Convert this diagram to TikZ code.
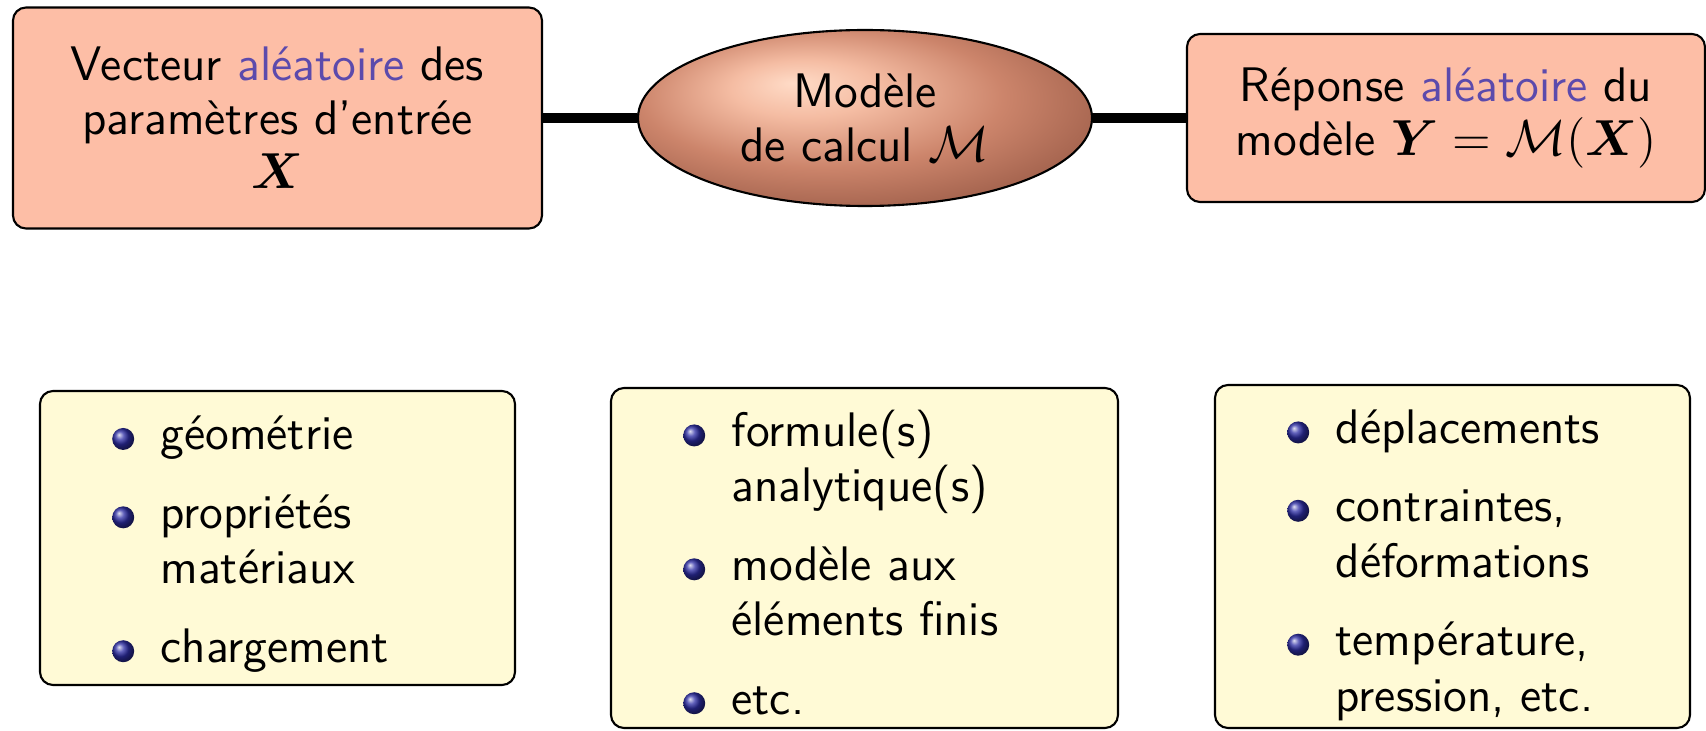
\documentclass[tikz,border=0pt]{standalone}
\usepackage{amsmath,bm}
\usetikzlibrary{shapes.geometric,positioning}
\definecolor{saumon}{RGB}{253,190,166}
\definecolor{creme}{RGB}{255,250,214}
\definecolor{structure}{RGB}{92,74,172}
\definecolor{puce}{RGB}{45,45,165}
\pgfdeclareradialshading{cuivreboule}{\pgfpoint{-8bp}{10bp}}{%
	rgb(0bp)=(1,0.86,0.78);
	rgb(8bp)=(0.96,0.74,0.64);
	rgb(20bp)=(0.80,0.52,0.42);
	rgb(32bp)=(0.62,0.37,0.29);
	rgb(50bp)=(0.44,0.25,0.19)}
\newcommand{\alea}{\textcolor{structure}{aléatoire}}
\newcommand{\bille}{\makebox[0.485cm][l]{\tikz[baseline=-0.5ex]\shade[ball color=puce] (0,0) circle (0.11cm);}}
\newcommand{\retrait}{\hspace*{0.485cm}}
\begin{document}
\begin{tikzpicture}[
	boite/.style={draw,line width=0.6pt,rounded corners=0.13cm,fill=saumon,inner sep=0pt,align=center,font=\sffamily\fontsize{13.8}{15.4}\selectfont},
	liste/.style={draw,line width=0.6pt,rounded corners=0.13cm,fill=creme},
	texte/.style={anchor=base west,inner sep=0pt,align=left,font=\sffamily\fontsize{13.8}{15.8}\selectfont}]
	\useasboundingbox (0,0) rectangle (17.06,7.30);
	%haut
	\node[boite,minimum width=5.29cm,minimum height=2.21cm] (entree) at (2.775,6.12) {Vecteur \alea{} des\\paramètres d’entrée\\$\bm{X}$};
	\node[boite,ellipse,rounded corners=0pt,shading=cuivreboule,minimum width=4.54cm,minimum height=1.76cm] (modele) at (8.65,6.12) {Modèle\\de calcul $\mathcal{M}$};
	\node[boite,minimum width=5.18cm,minimum height=1.68cm] (reponse) at (14.46,6.12) {Réponse \alea{} du\\modèle $\bm{Y} = \mathcal{M}(\bm{X})$};
	\draw[line width=2.6pt] (entree) -- (modele);
	\draw[line width=2.6pt] (modele) -- (reponse);
	
	%bas
	\node[liste,minimum width=4.75cm,minimum height=2.94cm] (geom) at (2.775,1.92) {};
	\node[liste,minimum width=5.07cm,minimum height=3.40cm] (calc) at (8.645,1.72) {};
	\node[liste,minimum width=4.75cm,minimum height=3.43cm] (sortie) at (14.525,1.735) {};
	
	\node[texte] (lgeom) at (1.115,0.68) {\bille géométrie\\[6.5pt]\bille propriétés\\\retrait matériaux\\[6.5pt]\bille chargement};
	\node[texte] (lcalc) at (6.825,0.16) {\bille formule(s)\\\retrait analytique(s)\\[6.5pt]\bille modèle aux\\\retrait éléments finis\\[6.5pt]\bille etc.};
	\node[texte] (lsortie) at (12.865,0.19) {\bille déplacements\\[6.5pt]\bille contraintes,\\\retrait déformations\\[6.5pt]\bille température,\\\retrait pression, etc.};
\end{tikzpicture}
\end{document}
